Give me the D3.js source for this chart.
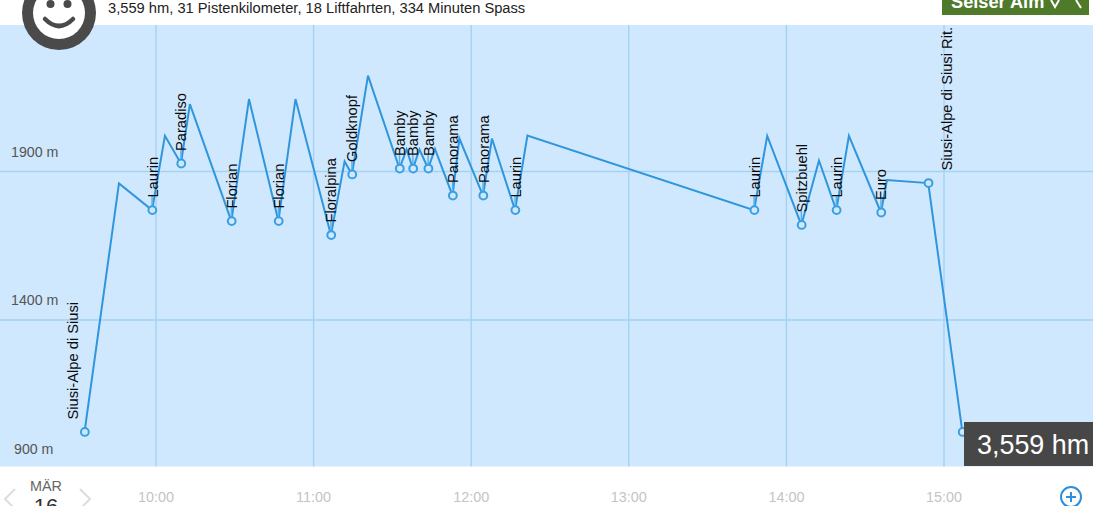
<!DOCTYPE html>
<html><head><meta charset="utf-8">
<script src="https://cdn.jsdelivr.net/npm/d3@7"></script>
<style>
html,body{margin:0;padding:0;background:#fff;overflow:hidden}
svg{display:block;font-family:"Liberation Sans",Arial,sans-serif}
</style></head><body><svg id="c" width="1093" height="506"></svg>
<script>
const times=[572.8,585.9,598.5,603.4,609.5,612.9,628.7,635.4,646.6,653.1,666.6,671.8,674.6,680.7,692.7,695.4,697.8,700.3,703.6,706.2,712.9,715.5,724.5,727.9,736.7,741.4,827.7,832.7,845.7,852.4,859,863.8,876,878.3,894,907];
const elevations=[1023,1860,1770,2020,1927,2127,1733,2144,1733,2144,1686,1934,1890,2223,1910,1974,1910,1974,1910,1976,1819,2011,1819,2011,1770,2021,1770,2020,1720,1937,1770,2020,1762,1871,1861,1023];
const stopNames=["Siusi-Alpe di Siusi","","Laurin","","Paradiso","","Florian","","Florian","","Floralpina","","Goldknopf","","Bamby","","Bamby","","Bamby","","Panorama","","Panorama","","Laurin","","Laurin","","Spitzbuehl","","Laurin","","Euro","","Siusi-Alpe di Siusi Rit.",""];
const hourTicks=[600,660,720,780,840,900];
const hourLabels=["10:00","11:00","12:00","13:00","14:00","15:00"];
const elevTicks=[900,1400,1900];
const summary="3,559 hm, 31 Pistenkilometer, 18 Liftfahrten, 334 Minuten Spass";
const total="3,559 hm";
const monthLabel="MÄR", dayLabel="16", brand="Seiser Alm";

const svg=d3.select("#c");
const x=d3.scaleLinear().domain([600,900]).range([156,944]);
const y=d3.scaleLinear().domain([900,1900]).range([468.5,171.5]);
const panelTop=25,panelBottom=466.5;

svg.append("rect").attr("x",0).attr("y",panelTop).attr("width",1093).attr("height",panelBottom-panelTop).attr("fill","#d0e8fd");
const grid="#a3d2f5";
svg.selectAll(".vg").data(hourTicks).join("line").attr("class","vg").attr("x1",d=>x(d)).attr("x2",d=>x(d)).attr("y1",panelTop).attr("y2",panelBottom).attr("stroke",grid).attr("stroke-width",1.4);
svg.selectAll(".hg").data(elevTicks.filter(d=>y(d)<panelBottom)).join("line").attr("class","hg").attr("x1",0).attr("x2",1093).attr("y1",d=>y(d)).attr("y2",d=>y(d)).attr("stroke",grid).attr("stroke-width",1.4);

svg.selectAll(".yl").data(elevTicks).join("text").attr("class","yl").attr("x",d=>d===900?14:11).attr("y",d=>y(d)-15).attr("font-size",14.2).attr("fill","#555").text(d=>d+" m");

svg.selectAll(".xl").data(hourTicks).join("text").attr("class","xl").attr("x",d=>x(d)).attr("y",502).attr("text-anchor","middle").attr("font-size",14.4).attr("fill","#c4c4c4").text((d,i)=>hourLabels[i]);

const pts=times.map((t,i)=>({t,e:elevations[i],name:stopNames[i],i}));
const line=d3.line().x(d=>x(d.t)).y(d=>y(d.e));
svg.append("path").datum(pts).attr("d",line).attr("fill","none").attr("stroke","#2f96de").attr("stroke-width",2).attr("stroke-linejoin","miter");

const stops=pts.filter(d=>d.name||d.i===pts.length-1);
const lastNamed=pts.length-2;
svg.selectAll(".stem").data(stops.filter(d=>d.name&&d.i!==0&&d.i!==lastNamed)).join("line").attr("class","stem").attr("x1",d=>x(d.t)).attr("x2",d=>x(d.t)).attr("y1",d=>y(d.e)).attr("y2",d=>y(d.e)-14).attr("stroke","#5ab0ea").attr("stroke-width",1.5);
svg.selectAll(".stop").data(stops).join("circle").attr("class","stop").attr("cx",d=>x(d.t)+0.3).attr("cy",d=>y(d.e)).attr("r",3.9).attr("fill","#d0e8fd").attr("stroke","#3a9fe2").attr("stroke-width",2);

const dx=d=>d.i===0?-6.5:(d.i===lastNamed?24:5.5);
svg.selectAll(".lbl").data(stops.filter(d=>d.name)).join("text").attr("class","lbl")
 .attr("transform",d=>`translate(${x(d.t)+dx(d)},${y(d.e)-12.5}) rotate(-90)`)
 .attr("font-size",14.7).attr("fill","#0a0a0a").text(d=>d.name);

svg.append("text").attr("x",108).attr("y",13).attr("font-size",14.7).attr("fill","#222").text(summary);
const face=svg.append("g").attr("transform","translate(59,13)");
face.append("circle").attr("r",37).attr("fill","#4a4a4a");
face.append("circle").attr("r",26).attr("fill","#fff");
face.append("circle").attr("cx",-8.5).attr("cy",-9).attr("r",4).attr("fill","#4a4a4a");
face.append("circle").attr("cx",8.5).attr("cy",-9).attr("r",4).attr("fill","#4a4a4a");
face.append("path").attr("d","M-14,6 Q0,20 14,6").attr("fill","none").attr("stroke","#4a4a4a").attr("stroke-width",4.5).attr("stroke-linecap","round");

svg.append("rect").attr("x",942).attr("y",-5).attr("width",147).attr("height",20).attr("fill","#4e7a2a");
svg.append("text").attr("x",951).attr("y",8).attr("font-size",18.2).attr("font-weight","bold").attr("fill","#fff").text(brand);
svg.append("path").attr("d","M1051,0L1055,7L1059,0M1076,0L1081,8").attr("fill","none").attr("stroke","#fff").attr("stroke-width",2);

svg.append("rect").attr("x",964).attr("y",422).attr("width",129).attr("height",44).attr("fill","#474747");
svg.append("text").attr("x",977).attr("y",453.5).attr("font-size",26.9).attr("fill","#fff").text(total);

svg.append("text").attr("x",46).attr("y",491).attr("text-anchor","middle").attr("font-size",14.4).attr("fill","#666").text(monthLabel);
svg.append("text").attr("x",46).attr("y",514).attr("text-anchor","middle").attr("font-size",22).attr("fill","#333").text(dayLabel);
svg.append("path").attr("d","M15,489 L5,499 L15,509").attr("fill","none").attr("stroke","#ddd").attr("stroke-width",2);
svg.append("path").attr("d","M80,489 L90,499 L80,509").attr("fill","none").attr("stroke","#ddd").attr("stroke-width",2);
const plus=svg.append("g").attr("transform","translate(1071,497)").attr("fill","none").attr("stroke","#2f8fdc").attr("stroke-width",2);
plus.append("circle").attr("r",10);
plus.append("path").attr("d","M-5,0H5M0,-5V5");
</script></body></html>
